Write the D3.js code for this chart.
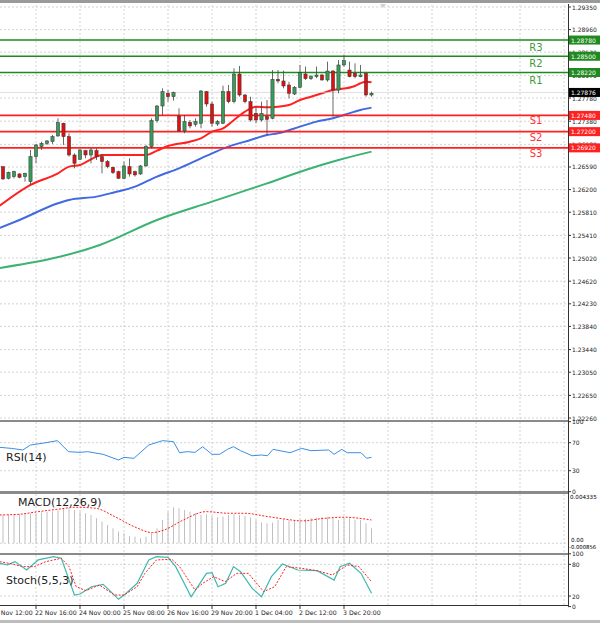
<!DOCTYPE html>
<html><head><meta charset="utf-8">
<script src="https://cdn.jsdelivr.net/npm/d3@7"></script>
<style>body{margin:0;background:#fff}svg{display:block;font-family:"DejaVu Sans",sans-serif}</style>
</head><body><svg id="c" width="600" height="623"></svg>
<script>
const open_=[1.26596,1.26395,1.26424,1.26470,1.26424,1.26337,1.26769,1.26941,1.26998,1.27027,1.27125,1.27344,1.27113,1.26797,1.26723,1.26872,1.26797,1.26872,1.26769,1.26683,1.26585,1.26510,1.26395,1.26596,1.26510,1.26470,1.26608,1.26941,1.27390,1.27642,1.27861,1.27803,1.27470,1.27212,1.27361,1.27326,1.27344,1.27890,1.27677,1.27332,1.27344,1.27890,1.27717,1.28194,1.27832,1.27717,1.27516,1.27401,1.27458,1.27430,1.28102,1.28074,1.28005,1.27849,1.27964,1.28194,1.28114,1.28148,1.28177,1.28091,1.28246,1.27918,1.28350,1.28263,1.28206,1.28148,1.28206,1.27832];
const high=[1.26596,1.26510,1.26527,1.26481,1.26493,1.26884,1.26987,1.27027,1.27056,1.27142,1.27430,1.27355,1.27171,1.26826,1.26895,1.26884,1.26912,1.26912,1.26815,1.26711,1.26596,1.26527,1.26683,1.26740,1.26527,1.26625,1.26970,1.27430,1.27660,1.27947,1.27918,1.27890,1.27602,1.27487,1.27401,1.27430,1.27918,1.27901,1.27717,1.27401,1.27993,1.28005,1.28292,1.28333,1.27849,1.27803,1.27631,1.27717,1.27746,1.28263,1.28263,1.28252,1.28062,1.27987,1.28350,1.28321,1.28177,1.28321,1.28194,1.28407,1.28263,1.28436,1.28522,1.28407,1.28378,1.28350,1.28217,1.27890];
const low=[1.26366,1.26378,1.26395,1.26395,1.26337,1.26280,1.26654,1.26884,1.26970,1.26987,1.27113,1.26970,1.26769,1.26567,1.26711,1.26740,1.26654,1.26711,1.26481,1.26567,1.26470,1.26384,1.26378,1.26424,1.26424,1.26453,1.26596,1.26912,1.27355,1.27487,1.27717,1.27734,1.27200,1.27171,1.27258,1.27286,1.27258,1.27631,1.27286,1.27298,1.27332,1.27688,1.27688,1.27803,1.27688,1.27373,1.27344,1.27373,1.27142,1.27413,1.28034,1.27947,1.27775,1.27832,1.27947,1.28091,1.28091,1.28120,1.28080,1.28062,1.27458,1.27861,1.28321,1.28137,1.28120,1.28137,1.27803,1.27803];
const close_=[1.26384,1.26498,1.26510,1.26412,1.26481,1.26769,1.26970,1.26998,1.27039,1.27113,1.27355,1.27113,1.26797,1.26654,1.26884,1.26797,1.26884,1.26769,1.26683,1.26596,1.26493,1.26395,1.26608,1.26470,1.26453,1.26608,1.26941,1.27390,1.27642,1.27890,1.27803,1.27872,1.27212,1.27373,1.27298,1.27373,1.27901,1.27677,1.27344,1.27373,1.27890,1.27717,1.28194,1.27832,1.27717,1.27401,1.27401,1.27516,1.27413,1.28102,1.28074,1.27987,1.27861,1.27964,1.28217,1.28114,1.28148,1.28177,1.28091,1.28246,1.27918,1.28350,1.28425,1.28148,1.28148,1.28177,1.27832,1.27861];
const maRed=[[-0.6,1.25921],[5,1.26280],[10,1.26481],[12,1.26596],[14,1.26625],[17,1.26769],[18,1.26797],[26,1.26797],[28,1.26872],[30,1.26953],[34,1.27027],[36,1.27085],[38,1.27200],[40,1.27258],[42,1.27401],[44,1.27545],[46,1.27631],[48,1.27620],[50,1.27631],[52,1.27660],[54,1.27746],[56,1.27803],[58,1.27861],[60,1.27918],[61,1.27930],[64,1.27987],[65,1.28034],[66,1.28062],[67,1.28051]];
const maBlue=[[-0.6,1.25538],[3,1.25676],[10,1.25964],[12,1.26021],[17,1.26079],[20,1.26147],[24,1.26251],[26,1.26337],[28,1.26424],[32,1.26567],[36,1.26740],[38,1.26826],[41,1.26941],[45,1.27056],[48,1.27142],[50,1.27171],[54,1.27286],[57,1.27373],[60,1.27430],[62,1.27487],[65,1.27574],[67,1.27614]];
const maGreen=[[-0.6,1.24848],[17.6,1.25245],[28,1.25676],[38,1.25992],[48,1.26308],[55,1.26539],[61,1.26711],[67,1.26855]];
const levelNames=["R3","R2","R1","S1","S2","S3"];
const levelValues=[1.28780,1.28500,1.28220,1.27480,1.27200,1.26920];
const priceTicks=[1.29350,1.28960,1.28570,1.28170,1.27780,1.27380,1.26980,1.26590,1.26200,1.25810,1.25410,1.25020,1.24620,1.24230,1.23840,1.23440,1.23050,1.22650,1.22260];
const lastPrice=1.27876;
const rsi=[[-0.6,63.4],[1.5,61.9],[3.6,59.6],[5,66.7],[7.1,69.1],[9.9,72.9],[11.9,57.2],[14,56.2],[15.4,57.2],[18.2,53.4],[21,45.3],[22,49.1],[23.8,47.7],[26.5,66.7],[29,72.9],[31,71.5],[32.1,55.7],[33.5,57.2],[34.9,56.2],[36.3,64.3],[38,53.4],[39.4,53.4],[40.8,60.5],[41.9,64.3],[43.2,58.6],[45.3,51.4],[47,52.4],[48.1,51.4],[49.1,60.5],[52.2,55.7],[54.3,61.9],[56,58.6],[59.2,59.6],[60.2,53.4],[61.6,60.5],[62.6,55.7],[65.1,55.7],[66.1,47.7],[67,49.1]];
const macdHist=[0.00249,0.00249,0.00252,0.00255,0.00258,0.00261,0.00264,0.00270,0.00276,0.00282,0.00290,0.00308,0.00308,0.00293,0.00278,0.00264,0.00249,0.00220,0.00191,0.00161,0.00132,0.00103,0.00088,0.00064,0.00058,0.00044,0.00058,0.00088,0.00132,0.00205,0.00278,0.00317,0.00308,0.00293,0.00278,0.00264,0.00249,0.00255,0.00240,0.00229,0.00235,0.00249,0.00255,0.00249,0.00240,0.00229,0.00205,0.00182,0.00176,0.00182,0.00205,0.00208,0.00205,0.00205,0.00208,0.00214,0.00220,0.00226,0.00229,0.00229,0.00220,0.00205,0.00220,0.00220,0.00208,0.00205,0.00176,0.00132];
const macdSignal=[[-0.6,0.00249],[2.9,0.00255],[6.4,0.00278],[9.9,0.00299],[13.3,0.00317],[16.8,0.00308],[20.3,0.00235],[23.8,0.00147],[27.2,0.00094],[29.3,0.00117],[32.8,0.00205],[36.9,0.00278],[41.1,0.00264],[43.9,0.00264],[48.1,0.00235],[51.5,0.00211],[54.3,0.00197],[58.5,0.00220],[62,0.00229],[67,0.00205]];
const stochMain=[[-0.6,82],[0.8,79],[2.2,85.2],[4.3,69.3],[6.4,88.4],[9.2,94.7],[10.6,91.5],[13,21.9],[14,23.8],[16.1,37.7],[18.2,42.2],[19.6,28.3],[21,13.8],[22.4,25.2],[24.4,44.1],[26.5,88.4],[27.9,94.7],[30,93.4],[31.4,75.7],[34.2,18.7],[37,63],[38,64.3],[39.1,37.7],[40.5,44.1],[41.9,75.7],[43.2,66.2],[45.3,34.6],[47,18.7],[48.8,56.7],[50.8,80.7],[53.6,69.3],[57.1,68],[60.2,50.3],[61.3,75.7],[63,82],[65.1,63],[67,25.2]];
const stochSignal=[[-0.6,85.2],[1.5,81.1],[3.6,75.7],[5.7,75.7],[7.8,85.2],[10.6,91.5],[12,75.7],[13.3,37.7],[15.1,30.2],[17.5,40.9],[20.3,21.9],[22,21.9],[24.4,37.7],[25.8,63],[27.9,88.4],[30.7,89.6],[32.1,75.7],[34.9,31.5],[36.3,44.1],[38.3,56.7],[40.4,47.2],[42.5,63],[44.6,63],[47.4,28.3],[49.4,37.7],[51.5,75.7],[54.3,72.5],[57.1,68],[59.9,59.9],[62.6,78.8],[64.7,75.7],[67,47.2]];
const timeLabels=["21 Nov 12:00","22 Nov 16:00","24 Nov 00:00","25 Nov 08:00","26 Nov 16:00","29 Nov 20:00","1 Dec 04:00","2 Dec 12:00","3 Dec 20:00"];
const timeTickIdx=[-2,6,14,22,30,38,46,54,62];

const svg=d3.select("#c");
const AX=568;
const x=d3.scaleLinear().domain([0,1]).range([3,8.5]);
const y=d3.scaleLinear().domain([1.2226,1.2935]).range([418,7]);
const yR=d3.scaleLinear().domain([0,100]).range([491.7,421.7]);
const yM=d3.scaleLinear().domain([-0.000856,0.004335]).range([553,494]);
const yS=d3.scaleLinear().domain([0,100]).range([606.6,553.8]);
const grid="#c8c8c8";
const panels=[[5,420],[422,491],[494,553],[555,605]];
svg.append("rect").attr("x",0).attr("y",0).attr("width",600).attr("height",3).attr("fill","#9a9a9a");
svg.append("path").attr("d","M380,4 L386,4 L383,8 Z").attr("fill","#cfcfcf");
const vg=d3.range(-2,108,8);
panels.forEach(([a,b])=>{
  svg.append("g").selectAll("line").data(vg).join("line").attr("x1",d=>x(d)).attr("x2",d=>x(d)).attr("y1",a).attr("y2",b)
   .attr("stroke",grid).attr("stroke-dasharray","2,2").attr("stroke-width",0.8);
});
const hg=(vals,sc)=>svg.append("g").selectAll("line").data(vals).join("line").attr("x1",0).attr("x2",AX).attr("y1",d=>sc(d)).attr("y2",d=>sc(d)).attr("stroke",grid).attr("stroke-dasharray","2,2").attr("stroke-width",0.8);
hg(priceTicks,y);hg([70,30],yR);hg([0],yM);hg([80,20],yS);
[[420,422],[491,494],[553,555]].forEach(([a,b])=>svg.append("rect").attr("x",0).attr("y",a).attr("width",AX).attr("height",b-a).attr("fill","#8a8a8a"));
svg.append("line").attr("x1",0).attr("x2",AX).attr("y1",605.5).attr("y2",605.5).attr("stroke","#333");
svg.append("line").attr("x1",AX+0.5).attr("x2",AX+0.5).attr("y1",4).attr("y2",606).attr("stroke","#333");
svg.append("rect").attr("x",0).attr("y",620).attr("width",600).attr("height",3).attr("fill","#bdbdbd");
const tk=(vals,sc,fmt)=>{const g=svg.append("g").attr("font-size",6).attr("fill","#222");
  vals.forEach(v=>{g.append("line").attr("x1",AX).attr("x2",AX+3).attr("y1",sc(v)).attr("y2",sc(v)).attr("stroke","#333");
   g.append("text").attr("x",AX+4).attr("y",sc(v)+2.5).text(fmt(v));});};
tk(priceTicks,y,d3.format(".5f"));
tk([100,70,30,0],yR,d=>d);
svg.append("text").attr("x",AX+2).attr("y",499).attr("font-size",5.6).text("0.004335");
svg.append("text").attr("x",AX+3).attr("y",542).attr("font-size",5.6).text("0.00");
svg.append("text").attr("x",AX+1).attr("y",549).attr("font-size",5.3).text("-0.000856");
tk([100,80,20,0],yS,d=>d);
const ln=d3.line().x(d=>x(d[0])).curve(d3.curveMonotoneX);
svg.append("clipPath").attr("id","mc").append("rect").attr("x",0).attr("y",5).attr("width",AX).attr("height",415);
const mg=svg.append("g").attr("clip-path","url(#mc)");
mg.append("path").datum(maGreen).attr("d",ln.y(d=>y(d[1]))).attr("fill","none").attr("stroke","#3cb371").attr("stroke-width",2);
mg.append("path").datum(maBlue).attr("d",ln.y(d=>y(d[1]))).attr("fill","none").attr("stroke","#4169e1").attr("stroke-width",2);
levelValues.forEach((v,i)=>{const col=i<3?"#1f8a1f":"#ff2020";
  mg.append("line").attr("x1",0).attr("x2",AX).attr("y1",y(v)).attr("y2",y(v)).attr("stroke",col).attr("stroke-width",1.6);
  svg.append("rect").attr("x",AX+1).attr("y",y(v)-4.5).attr("width",32).attr("height",9).attr("fill",col);
  svg.append("text").attr("x",AX+3).attr("y",y(v)+2.5).attr("font-size",6).attr("fill","#fff").text(v.toFixed(5));
  svg.append("text").attr("x",536).attr("y",y(v)+(i<3?11:9)).attr("font-size",10).attr("text-anchor","middle").attr("fill",i<3?"#3c9a3c":"#ff3030").text(levelNames[i]);
});
svg.append("line").attr("x1",0).attr("x2",AX).attr("y1",y(lastPrice)).attr("y2",y(lastPrice)).attr("stroke","#ccc").attr("stroke-width",0.6);
svg.append("rect").attr("x",AX+1).attr("y",y(lastPrice)-4.5).attr("width",32).attr("height",9).attr("fill","#000");
svg.append("text").attr("x",AX+3).attr("y",y(lastPrice)+2.5).attr("font-size",6).attr("fill","#fff").text(lastPrice.toFixed(5));
const cg=svg.append("g");
open_.forEach((o,i)=>{const c=close_[i],cx=x(i);
  cg.append("line").attr("x1",cx).attr("x2",cx).attr("y1",y(high[i])).attr("y2",y(low[i])).attr("stroke","#444").attr("stroke-width",0.8);
  const t=y(Math.max(o,c)),b=y(Math.min(o,c));
  cg.append("rect").attr("x",cx-1.6).attr("y",t).attr("width",3.2).attr("height",Math.max(1,b-t))
   .attr("fill",c>=o?"#3a9a5c":"#e01010").attr("stroke","#333").attr("stroke-width",0.5);
});
mg.append("path").datum(maRed).attr("d",ln.y(d=>y(d[1]))).attr("fill","none").attr("stroke","#ff2020").attr("stroke-width",2);
svg.append("path").datum(rsi).attr("d",d3.line().x(d=>x(d[0])).y(d=>yR(d[1]))).attr("fill","none").attr("stroke","#3a8ee6").attr("stroke-width",1);
svg.append("text").attr("x",6).attr("y",461).attr("font-size",11).attr("fill","#222").text("RSI(14)");
svg.append("g").selectAll("line").data(macdHist).join("line").attr("x1",(d,i)=>x(i)).attr("x2",(d,i)=>x(i)).attr("y1",yM(0)).attr("y2",d=>yM(d)).attr("stroke","#c0c0c0").attr("stroke-width",1);
svg.append("path").datum(macdSignal).attr("d",d3.line().x(d=>x(d[0])).y(d=>yM(d[1])).curve(d3.curveMonotoneX)).attr("fill","none").attr("stroke","#ff2020").attr("stroke-width",1).attr("stroke-dasharray","2,1.5");
svg.append("text").attr("x",18).attr("y",506).attr("font-size",11).attr("fill","#222").text("MACD(12,26,9)");
svg.append("path").datum(stochMain).attr("d",d3.line().x(d=>x(d[0])).y(d=>yS(d[1]))).attr("fill","none").attr("stroke","#40b8b0").attr("stroke-width",1.2);
svg.append("path").datum(stochSignal).attr("d",d3.line().x(d=>x(d[0])).y(d=>yS(d[1]))).attr("fill","none").attr("stroke","#ff2020").attr("stroke-width",1).attr("stroke-dasharray","2,1.5");
svg.append("text").attr("x",6).attr("y",584).attr("font-size",11).attr("fill","#222").text("Stoch(5,5,3)");
const tg=svg.append("g").attr("font-size",6.2).attr("fill","#222");
timeTickIdx.forEach((d,i)=>{tg.append("line").attr("x1",x(d)).attr("x2",x(d)).attr("y1",606).attr("y2",609).attr("stroke","#333");
  tg.append("text").attr("x",x(d)-1).attr("y",615).text(timeLabels[i]);});
</script></body></html>
